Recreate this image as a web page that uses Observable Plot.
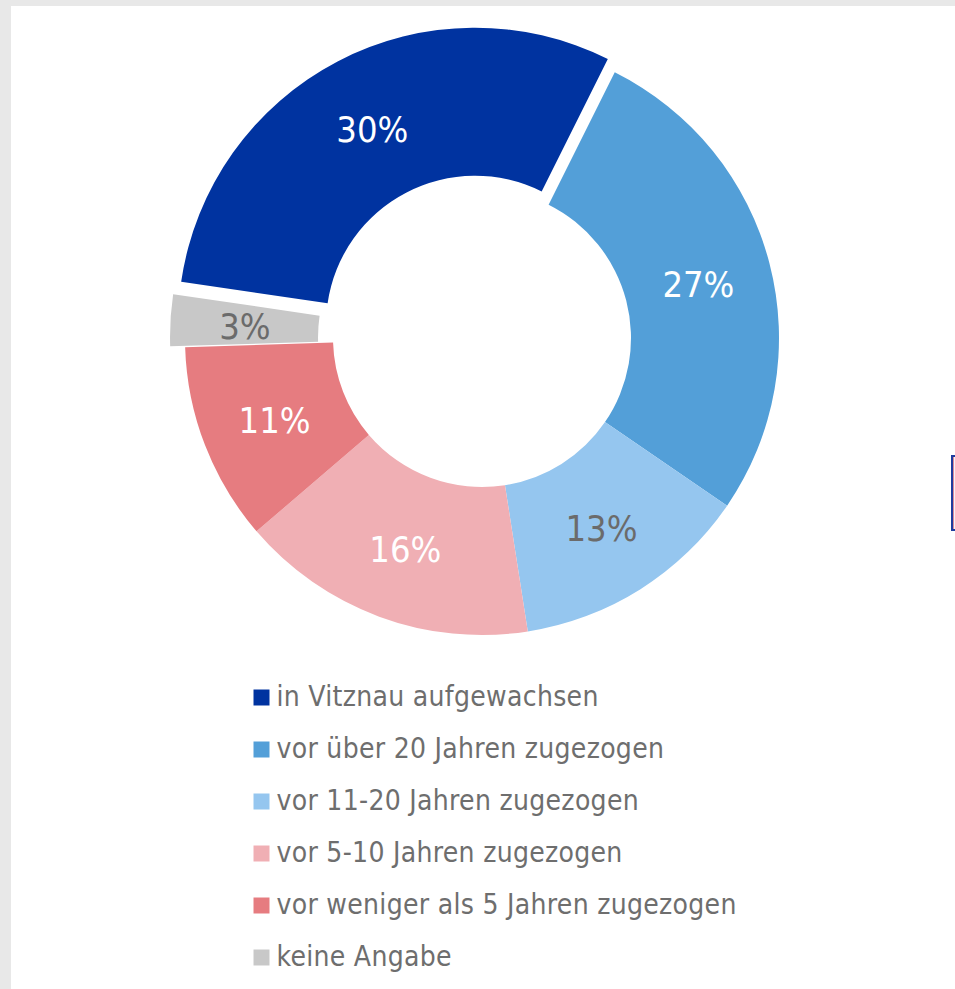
<!DOCTYPE html>
<html>
<head>
<meta charset="utf-8">
<script src="https://cdn.jsdelivr.net/npm/d3@7"></script>
<script src="https://cdn.jsdelivr.net/npm/@observablehq/plot@0.6"></script>
<style>
  html, body { margin: 0; padding: 0; background: #e8e8e8; width: 955px; height: 989px; overflow: hidden; }
  #page { position: absolute; left: 11px; top: 6px; width: 960px; height: 1000px; background: #ffffff; }
  #donut { position: absolute; left: 0; top: 0; }
  #legend { position: absolute; left: 0; top: 660px; }
  #legend text { letter-spacing: 0.3px; }
  #edge { position: absolute; left: 951px; top: 455px; width: 10px; height: 72px; border: 2px solid #1f3c9e; background: #f3f3f8; box-shadow: inset 1px 0 0 #d88a9a; }
  svg { overflow: visible; }
</style>
</head>
<body>
<div id="page"></div>
<div id="donut"></div>
<div id="legend"></div>
<div id="edge"></div>
<script>
// ---- data ----
const categories = [
  "in Vitznau aufgewachsen",
  "vor über 20 Jahren zugezogen",
  "vor 11-20 Jahren zugezogen",
  "vor 5-10 Jahren zugezogen",
  "vor weniger als 5 Jahren zugezogen",
  "keine Angabe"
];
const shares = [30.1, 27.2, 13.0, 16.2, 10.8, 2.8];
const explodedCategories = ["in Vitznau aufgewachsen", "keine Angabe"];

// ---- style ----
const colors = ["#0033a0", "#539fd8", "#95c6ef", "#f0afb4", "#e67c80", "#c8c8c8"];
const labelColors = ["#ffffff", "#ffffff", "#6b6b6b", "#ffffff", "#ffffff", "#6b6b6b"];
const fontFamily = "'DejaVu Sans Condensed', 'DejaVu Sans', sans-serif";

// ---- layout ----
const W = 955, donutH = 660, legendH = 329;
const cxPx = 482, cyPx = 338, Rpx = 297;
const innerRatio = 149 / 297;
const explodeRatio = 15 / 297;
const startDeg = 278.3;

const data = categories.map((c, i) => ({
  category: c, share: shares[i], label: Math.round(shares[i]) + "%",
  labelColor: labelColors[i], exploded: explodedCategories.includes(c)
}));

const colorScale = Plot.scale({color: {type: "ordinal", domain: categories, range: colors}});

const start = startDeg * Math.PI / 180;
const arcs = d3.pie().sort(null).value(d => d.share).startAngle(start).endAngle(start + 2 * Math.PI)(data);

// label positions in unit space (R = 1, y up)
const labelData = arcs.map(a => {
  const m = (a.startAngle + a.endAngle) / 2;
  const rm = (1 + innerRatio) / 2 + (a.data.exploded ? explodeRatio : 0);
  return {...a.data, lx: rm * Math.sin(m), ly: rm * Math.cos(m)};
});

function donutMark(index, scales) {
  const cx = scales.x(0), cy = scales.y(0);
  const R = scales.x(1) - cx;
  const arc = d3.arc().innerRadius(R * innerRatio).outerRadius(R);
  const g = d3.create("svg:g");
  g.selectAll("path").data(arcs).join("path")
    .attr("d", arc)
    .attr("fill", d => colorScale.apply(d.data.category))
    .attr("transform", d => {
      const m = (d.startAngle + d.endAngle) / 2;
      const e = d.data.exploded ? R * explodeRatio : 0;
      return `translate(${cx + e * Math.sin(m)},${cy - e * Math.cos(m)})`;
    });
  return g.node();
}

const donut = Plot.plot({
  width: W, height: donutH,
  marginTop: 0, marginRight: 0, marginBottom: 0, marginLeft: 0,
  x: {axis: null, domain: [-cxPx / Rpx, (W - cxPx) / Rpx]},
  y: {axis: null, domain: [-(donutH - cyPx) / Rpx, cyPx / Rpx]},
  color: {type: "identity"},
  style: {background: "transparent", overflow: "visible"},
  marks: [
    donutMark,
    Plot.text(labelData, {
      x: "lx", y: "ly", text: "label", fill: "labelColor", dy: 2.5,
      fontSize: 36, fontFamily, textAnchor: "middle", lineAnchor: "middle"
    })
  ]
});
document.getElementById("donut").append(donut);

const legend = Plot.plot({
  width: W, height: legendH,
  marginTop: 0, marginRight: 0, marginBottom: 0, marginLeft: 0,
  y: {type: "point", axis: null, domain: categories, range: [36, 297], padding: 0},
  color: {type: "ordinal", domain: categories, range: colors},
  style: {background: "transparent", overflow: "visible"},
  marks: [
    Plot.dot(data, {y: "category", fill: "category", symbol: "square", r: 16 / Math.sqrt(Math.PI), frameAnchor: "left", dx: 261}),
    Plot.text(data, {y: "category", text: "category", frameAnchor: "left", dx: 276, textAnchor: "start",
      fill: "#6e6e6e", fontSize: 28, fontFamily})
  ]
});
document.getElementById("legend").append(legend);
</script>
</body>
</html>
